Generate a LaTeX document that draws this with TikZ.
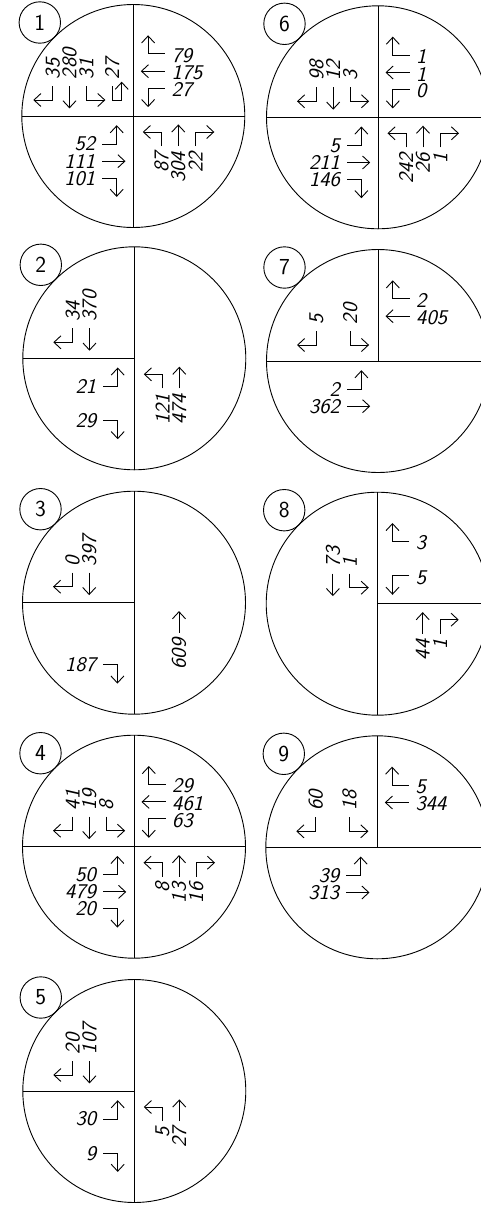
\documentclass[tikz,border=0pt]{standalone}
\usepackage{fontspec}
\usetikzlibrary{arrows.meta}
\tikzset{
  ln/.style={line width=0.9bp},
  arr/.style={line width=0.9bp, -{Straight Barb[length=7bp,width=13bp]}},
  numh/.style={inner sep=0pt, font=\fontsize{21}{24}\selectfont\sffamily\itshape},
  numv/.style={numh, rotate=90},
  lbl/.style={draw, circle, line width=0.9bp, minimum size=41.4bp, inner sep=0pt, font=\fontsize{23}{26}\selectfont\sffamily},
}
\newcommand\myNum[1]{\scalebox{1.05}[1]{#1}}
% south-bound (upper left quadrant): #1 x shift, #2 number, #3 node name
\newcommand\mySBR[3]{\draw[arr] ({#1-61.5},-30) -- ({#1-61.5},-16) -- ({#1-81},-16);
  \node[numv,anchor=west] (#3) at ({#1-61.5},-36.5) {\myNum{#2}};}
\newcommand\mySBT[3]{\draw[arr] ({#1-44.8},-30) -- ({#1-44.8},-7.6);
  \node[numv,anchor=west] (#3) at ({#1-44.8},-36.5) {\myNum{#2}};}
\newcommand\mySBL[3]{\draw[arr] ({#1-27.8},-30) -- ({#1-27.8},-16) -- ({#1-8.9},-16);
  \node[numv,anchor=west] (#3) at ({#1-27.8},-36.5) {\myNum{#2}};}
% north-bound (lower right quadrant): #1 number, #2 name
\newcommand\myNBL[2]{\draw[arr] (28.2,30) -- (28.2,16) -- (9.5,16);
  \node[numv,anchor=east] (#2) at (28.2,35.5) {\myNum{#1}};}
\newcommand\myNBT[2]{\draw[arr] (45,30) -- (45,8.4);
  \node[numv,anchor=east] (#2) at (45,35.5) {\myNum{#1}};}
\newcommand\myNBR[2]{\draw[arr] (62.3,30) -- (62.3,16) -- (81,16);
  \node[numv,anchor=east] (#2) at (62.3,35.5) {\myNum{#1}};}
% west-bound (upper right quadrant)
\newcommand\myWBR[2]{\draw[arr] (31.6,-62.2) -- (14.8,-62.2) -- (14.8,-80.7);
  \node[numh,anchor=west] (#2) at (38,-60.7) {\myNum{#1}};}
\newcommand\myWBT[2]{\draw[arr] (31.6,-44.8) -- (7.5,-44.8);
  \node[numh,anchor=west] (#2) at (38,-43.3) {\myNum{#1}};}
\newcommand\myWBL[2]{\draw[arr] (31.6,-27.9) -- (14.8,-27.9) -- (14.8,-8.9);
  \node[numh,anchor=west] (#2) at (38,-26.4) {\myNum{#1}};}
% east-bound (lower left quadrant)
\newcommand\myEBL[2]{\draw[arr] (-30.9,28) -- (-16.6,28) -- (-16.6,9.2);
  \node[numh,anchor=east] (#2) at (-37.8,28) {\myNum{#1}};}
\newcommand\myEBT[2]{\draw[arr] (-30.9,45.2) -- (-7.8,45.2);
  \node[numh,anchor=east] (#2) at (-37.8,45.2) {\myNum{#1}};}
\newcommand\myEBR[2]{\draw[arr] (-30.9,62.2) -- (-16.6,62.2) -- (-16.6,80.9);
  \node[numh,anchor=east] (#2) at (-37.8,62.2) {\myNum{#1}};}
% circle with label
\newcommand\myCirc[2]{\draw[ln] (0,0) circle[radius=111.5bp];
  \node[lbl] (#1) at (-93.5,-93.5) {#2};}
\newcommand\myVfull{\draw[ln] (0,-111.5) -- (0,111.5);}
\newcommand\myVtop{\draw[ln] (0,-111.5) -- (0,0);}
\newcommand\myHfull{\draw[ln] (-111.5,0) -- (111.5,0);}
\newcommand\myHleft{\draw[ln] (-111.5,0) -- (0,0);}
\newcommand\myHright{\draw[ln] (0,0) -- (111.5,0);}

\begin{document}
\begin{tikzpicture}[x=1bp,y=-1bp]
\useasboundingbox (0,0) rectangle (481,1211);
\clip (0,0) rectangle (481,1211);
\fill[white] (0,0) rectangle (481,1211);

% ---- 1 ----
\begin{scope}[shift={(133.3,116)}]
  \myCirc{lab1}{1}\myVfull\myHfull
  \mySBR{-19}{35}{a1}\mySBT{-19}{280}{a2}\mySBL{-19}{31}{a3}
  \draw[arr] (-21,-30) -- (-21,-16) -- (-11.6,-16) -- (-11.6,-34.3);
  \node[numv,anchor=west] (a4) at (-21,-36.5) {\myNum{27}};
  \myWBR{79}{a5}\myWBT{175}{a6}\myWBL{27}{a7}
  \myNBL{87}{a8}\myNBT{304}{a9}\myNBR{22}{a10}
  \myEBL{52}{a11}\myEBT{111}{a12}\myEBR{101}{a13}
\end{scope}

% ---- 6 ----
\begin{scope}[shift={(378,117.3)}]
  \myCirc{lab6}{6}\myVfull\myHfull
  \mySBR{0}{98}{f1}\mySBT{0}{12}{f2}\mySBL{0}{3}{f3}
  \myWBR{1}{f5}\myWBT{1}{f6}\myWBL{0}{f7}
  \myNBL{242}{f8}\myNBT{26}{f9}\myNBR{1}{f10}
  \myEBL{5}{f11}\myEBT{211}{f12}\myEBR{146}{f13}
\end{scope}

% ---- 2 ----
\begin{scope}[shift={(134.3,358.3)}]
  \myCirc{lab2}{2}\myVfull\myHleft
  \mySBR{0}{34}{b1}\mySBT{0}{370}{b2}
  \myEBL{21}{b3}\myEBR{29}{b4}
  \myNBL{121}{b5}\myNBT{474}{b6}
\end{scope}

% ---- 7 ----
\begin{scope}[shift={(378,361)}]
  \myCirc{lab7}{7}\myVtop\myHfull
  \mySBR{0}{5}{g1}\mySBL{0}{20}{g2}
  \myWBR{2}{g3}\myWBT{405}{g4}
  \myEBL{2}{g5}\myEBT{362}{g6}
\end{scope}

% ---- 3 ----
\begin{scope}[shift={(134,602.7)}]
  \myCirc{lab3}{3}\myVfull\myHleft
  \mySBR{0}{0}{c1}\mySBT{0}{397}{c2}
  \myEBR{187}{c3}
  \myNBT{609}{c4}
\end{scope}

% ---- 8 ----
\begin{scope}[shift={(377.7,603.7)}]
  \myCirc{lab8}{8}\myVfull\myHright
  \mySBT{0}{73}{h1}\mySBL{0}{1}{h2}
  \myWBR{3}{h3}\myWBL{5}{h4}
  \myNBT{44}{h5}\myNBR{1}{h6}
\end{scope}

% ---- 4 ----
\begin{scope}[shift={(134,846.7)}]
  \myCirc{lab4}{4}\myVfull\myHfull
  \mySBR{0}{41}{d1}\mySBT{0}{19}{d2}\mySBL{0}{8}{d3}
  \myWBR{29}{d4}\myWBT{461}{d5}\myWBL{63}{d6}
  \myEBL{50}{d7}\myEBT{479}{d8}\myEBR{20}{d9}
  \myNBL{8}{d10}\myNBT{13}{d11}\myNBR{16}{d12}
\end{scope}

% ---- 9 ----
\begin{scope}[shift={(377.3,847.3)}]
  \myCirc{lab9}{9}\myVtop\myHfull
  \mySBR{0}{60}{i1}\mySBL{0}{18}{i2}
  \myWBR{5}{i3}\myWBT{344}{i4}
  \myEBL{39}{i5}\myEBT{313}{i6}
\end{scope}

% ---- 5 ----
\begin{scope}[shift={(134.3,1091)}]
  \myCirc{lab5}{5}\myVfull\myHleft
  \mySBR{0}{20}{e1}\mySBT{0}{107}{e2}
  \myEBL{30}{e3}\myEBR{9}{e4}
  \myNBL{5}{e5}\myNBT{27}{e6}
\end{scope}
\end{tikzpicture}
\end{document}
